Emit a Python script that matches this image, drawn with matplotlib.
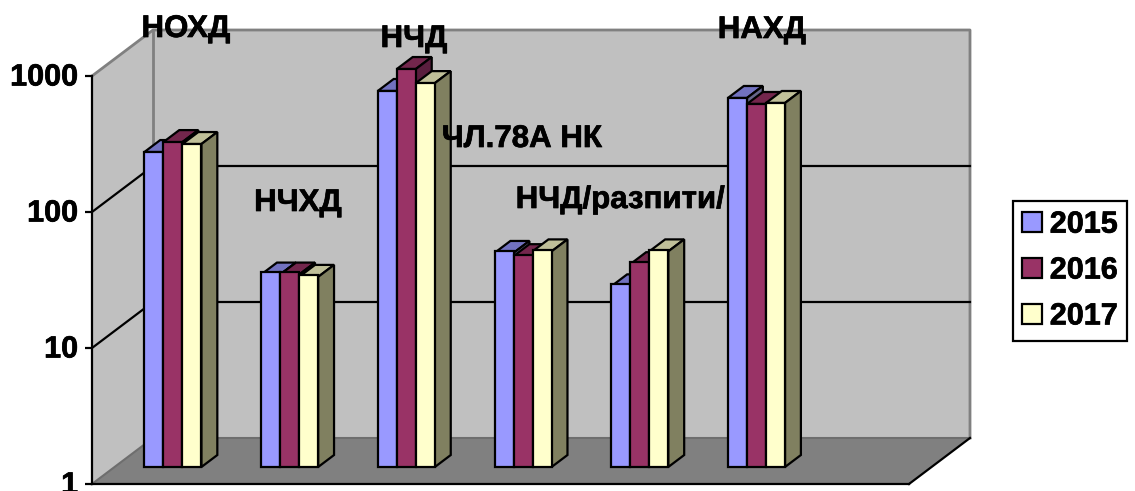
import matplotlib
matplotlib.use("Agg")
import matplotlib.pyplot as plt
import matplotlib.patheffects as pe
from matplotlib.patches import Polygon, Patch
from matplotlib.transforms import Affine2D, IdentityTransform

W, H = 1135, 491
plt.rcParams['font.family'] = ['Liberation Sans', 'DejaVu Sans']
plt.rcParams['font.weight'] = 'bold'

categories = ["НОХД", "НЧХД", "НЧД", "ЧЛ.78А НК", "НЧД/разпити/", "НАХД"]
v2015 = [207, 26, 582, 37.5, 21.3, 517]
v2016 = [245, 26, 844, 35.5, 31, 467]
v2017 = [237, 25, 665, 38.5, 38.5, 475]
series_names = ["2015", "2016", "2017"]
y_ticks = [1, 10, 100, 1000]
y_tick_labels = ["1", "10", "100", "1000"]

label_px = [(186, 29), (298, 203), (414, 39), (522, 139), (620, 200), (762, 30)]
front = ["#9999FF", "#993366", "#FFFFCC"]
top = ["#7272C0", "#73264C", "#C0C099"]
side = ["#66668A", "#5A1E3E", "#808060"]
FS = 22
LW = 1.6
heavy = [pe.withStroke(linewidth=0.5, foreground="black")]

fig = plt.figure(figsize=(W / 100, H / 100), dpi=100, facecolor="white")
ax = fig.add_axes([92 / W, (H - 484) / H, 817 / W, 408 / H])
ax.set_yscale("log")
ax.set_xlim(-0.5, 6.5)      # seven category slots, the last one empty
ax.set_ylim(1, 1000)
ax.patch.set_visible(False)
for s in ("top", "right"):
    ax.spines[s].set_visible(False)
for s in ("left", "bottom"):
    ax.spines[s].set_linewidth(LW)
    ax.spines[s].set_zorder(2)
ax.set_xticks([])
ax.minorticks_off()
ax.set_yticks(y_ticks)
ax.set_yticklabels(y_tick_labels, fontsize=FS, fontweight="bold")
ax.tick_params(axis="y", which="minor", length=0)
ax.tick_params(axis="y", length=5, width=LW, pad=5)
for lab in ax.get_yticklabels():
    lab.set_path_effects(heavy)
    lab.set_transform(lab.get_transform() + Affine2D().translate(0, 2))

DX, DY = 61, 46          # full depth of the box in pixels
x0, x1 = ax.get_xlim()


def P(x, v, d=0.0):
    px, py = ax.transData.transform((x, v))
    return (px + DX * d, py + DY * d)


def poly(pts, fc, ec="none", lw=0, z=1):
    ax.add_patch(Polygon(pts, closed=True, facecolor=fc, edgecolor=ec, linewidth=lw,
                         transform=IdentityTransform(), clip_on=False, zorder=z,
                         joinstyle="miter"))


def line(pts, color, lw=LW, z=1.5):
    ax.plot([p[0] for p in pts], [p[1] for p in pts], color=color, lw=lw,
            transform=IdentityTransform(), clip_on=False, zorder=z,
            solid_capstyle="projecting")


# walls and floor
poly([P(x0, 1), P(x0, 1000), P(x0, 1000, 1), P(x0, 1, 1)], "#C0C0C0")
poly([P(x0, 1, 1), P(x0, 1000, 1), P(x1, 1000, 1), P(x1, 1, 1)], "#C0C0C0")
poly([P(x0, 1), P(x0, 1, 1), P(x1, 1, 1), P(x1, 1)], "#808080")
# frame
grey = "#808080"
line([P(x0, 1000), P(x0, 1000, 1), P(x1, 1000, 1), P(x1, 1, 1)], grey, lw=2)
line([P(x0, 1000, 1), P(x0, 1, 1)], grey, lw=2)
line([P(x0, 1), P(x0, 1, 1), P(x1, 1, 1)], "#6E6E6E", lw=1.5)
line([P(x1, 1), P(x1, 1, 1)], "black")
# gridlines
for t in y_ticks[1:-1]:
    line([P(x0, t), P(x0, t, 1), P(x1, t, 1)], "black")

# bars: depth slab from 0.37 to 0.63 of the box
D0, D1 = 0.37, 0.63
bw = 0.163
order_z = 3
for i in range(len(categories)):
    for j, vals in enumerate([v2015, v2016, v2017]):
        xc = i + (j - 1) * bw
        xl, xr = xc - bw / 2, xc + bw / 2
        v = vals[i]
        poly([P(xl, v, D0), P(xl, v, D1), P(xr, v, D1), P(xr, v, D0)], top[j], "black", LW, order_z)
        poly([P(xr, 1, D0), P(xr, v, D0), P(xr, v, D1), P(xr, 1, D1)], side[j], "black", LW, order_z)
        offset = ax.transData + Affine2D().translate(DX * D0, DY * D0)
        ax.bar([xc], [v], width=bw, bottom=1, color=front[j], edgecolor="black", linewidth=LW,
               transform=offset, clip_on=False, zorder=order_z)
        order_z += 0.01
ax.set_xlim(-0.5, 6.5)
ax.set_ylim(1, 1000)

for name, (px, py) in zip(categories, label_px):
    fig.text(px / W, (H - py) / H, name, ha="center", va="center", fontsize=22.5,
             fontweight="bold", color="black", path_effects=heavy)

handles = [Patch(facecolor=front[k], edgecolor="black", linewidth=LW, label=series_names[k]) for k in range(3)]
leg = fig.legend(handles=handles, loc="upper left",
                 bbox_to_anchor=(1012.5 / W, (H - 200.5) / H), bbox_transform=fig.transFigure,
                 borderaxespad=0, frameon=True, fancybox=False, framealpha=1, edgecolor="black",
                 prop={"size": FS, "weight": "bold"}, handlelength=0.65, handleheight=0.65,
                 handletextpad=0.27, labelspacing=0.52, borderpad=0.3)
leg.get_frame().set_linewidth(LW)
for t in leg.get_texts():
    t.set_path_effects(heavy)

fig.savefig("out.png", dpi=100)
